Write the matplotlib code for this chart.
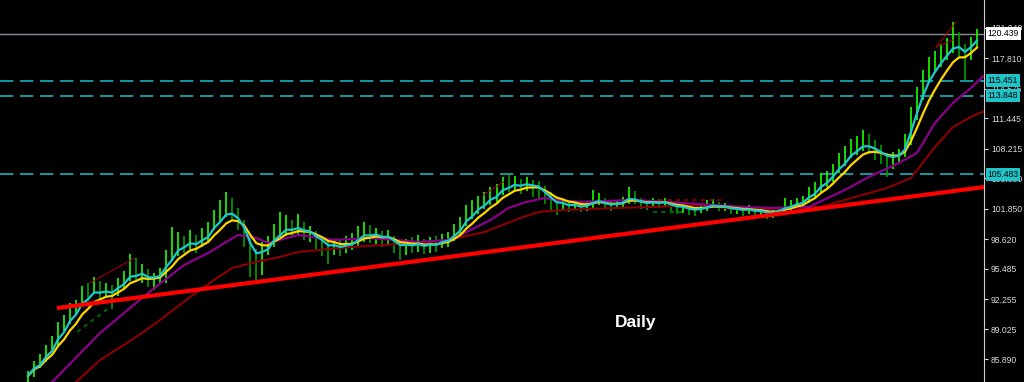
import numpy as np
import pandas as pd
import matplotlib
matplotlib.use('Agg')
import matplotlib.pyplot as plt

# daily bars
close = [84.1, 85.3, 85.5, 86.9, 87.3, 89.2, 89.5, 91.1, 91.3, 92.9,
         92.7, 93.7, 92.9, 93.2, 92.8, 93.9, 94.3, 95.4, 94.8, 95.2,
         94.2, 94.5, 94.9, 96.6, 97.2, 98.4, 98.1, 98.6, 98.0, 98.9,
         99.2, 100.8, 101.1, 102.0, 101.4, 100.3, 98.9, 96.6, 96.0, 97.4,
         97.9, 99.4, 99.6, 100.2, 99.6, 100.0, 99.3, 99.3, 98.4, 98.1,
         97.4, 98.0, 97.6, 98.1, 98.2, 99.0, 99.5, 99.0, 99.2, 98.6,
         98.9, 98.0, 97.5, 98.1, 97.9, 98.2, 97.7, 98.2, 98.0, 98.6,
         98.6, 99.5, 100.1, 101.5, 101.6, 102.5, 102.6, 103.4, 103.4, 104.5,
         104.3, 104.7, 104.2, 104.6, 104.2, 104.1, 103.1, 102.5, 102.0, 102.4,
         102.0, 102.3, 101.9, 102.2, 102.7, 102.9, 102.3, 102.1, 102.4, 102.6,
         103.3, 102.8, 102.4, 102.3, 102.6, 102.4, 102.6, 102.1, 101.9, 102.0,
         101.7, 101.6, 101.9, 102.1, 102.4, 102.0, 102.1, 101.7, 101.8, 101.6,
         101.8, 101.5, 101.6, 101.3, 101.4, 101.7, 102.2, 102.2, 102.6, 102.6,
         103.6, 103.8, 104.9, 105.0, 105.9, 106.8, 107.2, 108.3, 108.4, 109.0,
         108.5, 108.0, 107.5, 107.1, 107.2, 107.6, 108.8, 111.9, 113.9, 115.7,
         116.8, 117.4, 118.2, 118.9, 119.6, 119.2, 118.0, 119.5, 120.4]
high = [84.6, 85.7, 86.4, 87.4, 88.3, 89.8, 90.6, 91.8, 92.2, 93.6,
        94.0, 94.6, 94.2, 94.0, 93.8, 94.5, 95.2, 97.0, 96.6, 96.0,
        95.4, 95.0, 95.6, 97.5, 99.9, 99.4, 99.0, 99.6, 99.1, 99.8,
        100.4, 101.7, 102.8, 103.6, 103.0, 101.9, 100.7, 99.0, 97.6, 98.3,
        99.0, 100.2, 101.5, 101.2, 100.6, 101.3, 100.4, 100.0, 99.5, 98.9,
        98.4, 98.6, 98.5, 98.9, 99.3, 100.0, 100.4, 100.1, 99.8, 99.5,
        99.6, 99.0, 98.4, 98.6, 98.8, 99.1, 98.6, 98.8, 98.9, 99.2,
        99.4, 100.2, 101.0, 102.2, 102.8, 103.2, 103.6, 104.2, 104.5, 105.2,
        105.4, 105.3, 105.0, 105.2, 104.9, 104.8, 104.3, 103.6, 102.9, 102.8,
        102.6, 102.7, 102.5, 102.6, 103.8, 103.5, 103.0, 102.6, 102.8, 103.1,
        104.2, 103.7, 103.0, 102.8, 103.0, 102.9, 103.0, 102.7, 102.4, 102.4,
        102.2, 102.0, 102.3, 102.8, 102.9, 102.6, 102.5, 102.2, 102.1, 102.0,
        102.2, 101.9, 102.0, 101.8, 101.7, 102.0, 103.0, 102.8, 103.0, 103.2,
        104.2, 104.7, 105.6, 105.9, 106.6, 107.8, 108.5, 109.3, 109.6, 110.2,
        109.8, 109.1, 108.6, 107.8, 107.9, 108.2, 109.8, 112.6, 114.8, 116.6,
        118.0, 118.6, 119.3, 120.0, 121.7, 120.6, 119.3, 120.1, 120.9]
low = [83.4, 84.0, 84.9, 85.6, 86.7, 87.4, 88.9, 89.6, 90.6, 91.4,
       92.1, 92.8, 92.3, 92.4, 91.2, 92.6, 93.4, 94.2, 94.2, 94.0,
       93.5, 93.2, 93.9, 94.0, 96.3, 96.8, 97.2, 97.6, 97.1, 97.8,
       98.4, 99.6, 100.3, 101.0, 100.6, 99.6, 97.8, 94.6, 94.0, 94.8,
       96.9, 97.8, 98.8, 99.0, 98.9, 99.2, 98.5, 98.3, 97.6, 96.8,
       96.0, 96.9, 96.8, 97.2, 97.5, 97.8, 98.3, 98.2, 98.1, 97.8,
       97.9, 97.2, 96.4, 96.9, 97.1, 97.3, 97.0, 97.2, 97.3, 97.7,
       97.8, 98.4, 99.0, 100.0, 100.8, 101.3, 101.8, 102.2, 102.6, 103.3,
       103.6, 103.8, 103.4, 103.7, 103.1, 102.9, 102.4, 101.6, 101.2, 101.6,
       101.5, 101.7, 101.5, 101.6, 101.9, 102.2, 101.8, 101.6, 101.8, 102.0,
       102.4, 102.3, 101.8, 101.7, 102.0, 101.9, 102.0, 101.6, 101.3, 101.4,
       101.2, 101.1, 101.4, 101.6, 101.9, 101.6, 101.6, 101.3, 101.3, 101.1,
       101.3, 101.0, 101.1, 100.8, 100.9, 101.2, 101.5, 101.7, 102.0, 102.1,
       102.5, 103.0, 103.6, 104.2, 104.7, 105.6, 106.4, 107.2, 107.6, 108.0,
       107.7, 107.0, 106.6, 105.2, 106.1, 106.6, 107.3, 108.6, 111.3, 113.4,
       115.2, 116.3, 116.9, 117.6, 118.4, 117.7, 115.5, 117.6, 119.0]

# slow moving averages (bar index, price)
purple_idx = [0, 4, 12, 20, 26, 30, 33, 35, 38, 40, 45, 51, 57, 65, 70, 73, 77,
              80, 83, 86, 88, 92, 101, 109, 119, 124, 130, 136, 140, 145, 148,
              151, 154, 157, 159]
purple_val = [80.5, 83.45, 88.66, 92.91, 95.88, 97.15, 98.32, 99.06, 98.74,
              98.21, 99.06, 98.53, 98.74, 98.32, 98.53, 99.38, 100.65, 101.93,
              102.57, 102.99, 102.78, 102.57, 102.78, 102.46, 102.04, 101.93,
              102.04, 103.84, 105.22, 106.71, 107.77, 110.95, 113.08, 114.67,
              115.9]
darkred_idx = [3, 8, 12, 18, 22, 27, 31, 34, 38, 42, 45, 54, 59, 65, 70, 76,
               82, 85, 89, 98, 104, 112, 119, 132, 136, 143, 147, 151, 154, 157,
               159]
darkred_val = [79.5, 83.45, 85.79, 88.23, 90.04, 92.48, 94.29, 95.56, 96.20,
               96.73, 97.26, 97.79, 98.00, 98.21, 98.53, 99.38, 100.87, 101.50,
               101.72, 101.93, 102.04, 102.25, 101.72, 102.04, 102.78, 104.05,
               105.11, 108.40, 110.53, 111.59, 112.15]

# hand drawn trend line and levels
trend_idx = [4.8, 159.2]
trend_val = [91.3, 104.15]
level_vals = [115.451, 113.848, 105.483]
last_price = 120.439
tick_vals = [85.890, 89.025, 92.255, 95.485, 98.620, 101.850, 105.080,
             108.215, 111.445, 114.575, 117.810, 121.040]

# small channel segments drawn by the indicator
seg_red = [([10.3, 17.8], [93.97, 96.62]), ([75.8, 79.2], [103.3, 104.7]),
           ([151.2, 154.5], [119.02, 121.67]), ([151.2, 154.0], [119.02, 119.76])]
seg_dot_red = ([105, 116], [102.78, 102.78])
seg_dot_green = [([8.2, 13.7], [88.77, 91.42]), ([104, 109.5], [101.5, 101.5])]

fig = plt.figure(figsize=(10.24, 3.82), dpi=100, facecolor='black')
ax = fig.add_axes([0, 0, 984 / 1024, 1])
ax.set_facecolor('black')

idx = np.arange(len(close))
c = pd.Series(close)
hi = np.array(high)
lo = np.array(low)
up = (c.diff().fillna(1) >= 0).values
ax.vlines(idx[up], lo[up], hi[up], color='#1aff00', lw=1.2, zorder=2)
ax.vlines(idx[~up], lo[~up], hi[~up], color='#009e00', lw=1.2, zorder=2)

for xs, ys in seg_red:
    ax.plot(xs, ys, color='#b00000', lw=0.7, zorder=2)
ax.plot(*seg_dot_red, color='#7a0000', lw=1.5, ls=(0, (2, 2)), zorder=2)
for xs, ys in seg_dot_green:
    ax.plot(xs, ys, color='#006400', lw=1.5, ls=(0, (2, 2)), zorder=2)

# levels
for v in level_vals:
    ax.axhline(v, color='#14b4bc', lw=1.2, ls=(0, (8, 4)), zorder=1)
ax.axhline(last_price, color='#8c8c96', lw=1.0, zorder=1)

# moving averages
ax.plot(darkred_idx, darkred_val, color='#8b0000', lw=1.5, zorder=3)
ax.plot(purple_idx, purple_val, color='#8b008b', lw=1.6, zorder=3)
ax.plot(idx, c.ewm(span=6).mean(), color='#ffd500', lw=1.6, zorder=4)
ax.plot(idx, c.ewm(span=3).mean(), color='#1ec8d0', lw=1.6, zorder=4)

ax.plot(trend_idx, trend_val, color='#ff0000', lw=3.0, zorder=5,
        solid_capstyle='butt')

ax.set_xlim(-4.67, 159.17)
ax.set_ylim(83.45, 124.01)

for s in ['top', 'bottom', 'left']:
    ax.spines[s].set_visible(False)
ax.spines['right'].set_color('#d0d0d0')
ax.set_xticks([])
ax.yaxis.tick_right()
ax.set_yticks(tick_vals)
ax.set_yticklabels(['%.3f' % t for t in tick_vals], family='Liberation Sans')
ax.tick_params(axis='y', colors='#d8d8d8', labelsize=6.2, length=3, pad=2,
               width=0.8)

# price labels on the scale
box_font = dict(fontsize=6.2, family='Liberation Sans', color='black')
for v in level_vals:
    ax.annotate('%.3f' % v, xy=(1.0, v), xycoords=('axes fraction', 'data'),
                xytext=(2.6, 0), textcoords='offset points', ha='left',
                va='center', zorder=6, annotation_clip=False,
                bbox=dict(boxstyle='square,pad=0.2', fc='#1ec4c8', ec='none'),
                **box_font)
ax.annotate('%.3f' % last_price, xy=(1.0, last_price),
            xycoords=('axes fraction', 'data'), xytext=(2.6, 0),
            textcoords='offset points', ha='left', va='center', zorder=6,
            annotation_clip=False,
            bbox=dict(boxstyle='square,pad=0.2', fc='white', ec='none'),
            **box_font)

ax.text(0.646, 0.155, 'Daily', transform=ax.transAxes, color='white',
        fontsize=12.5, fontweight='bold', family='Liberation Sans',
        ha='center', va='center')

fig.savefig('out.png', dpi=100, facecolor='black')
